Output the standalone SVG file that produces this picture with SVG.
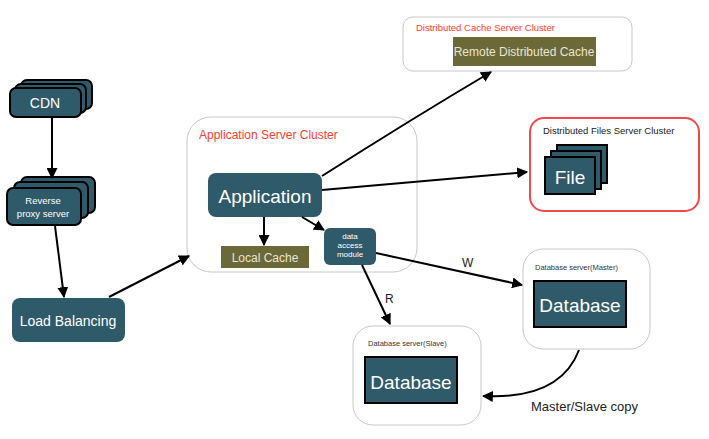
<svg xmlns="http://www.w3.org/2000/svg" width="709" height="439" viewBox="0 0 709 439">
<defs>
<marker id="ah" viewBox="0 0 10 10" refX="9" refY="5" markerWidth="5.5" markerHeight="5.5" orient="auto" markerUnits="strokeWidth">
<path d="M0,0 L10,5 L0,10 z" fill="#000"/>
</marker>
<style>
text{font-family:"Liberation Sans",Arial,sans-serif}
.node{fill:#2f5a69;stroke:#000;stroke-width:2}
.plain{fill:#2f5a69}
.olive{fill:#6b6938}
.wt{fill:#ffffff;text-anchor:middle}
.oltext{fill:#e9e6d0;text-anchor:middle}
.cluster{fill:#fff;stroke:#c8c8c8;stroke-width:1}
.red{fill:#ff3b30}
.conn{fill:none;stroke:#000;stroke-width:2;marker-end:url(#ah)}
</style>
</defs>
<rect width="709" height="439" fill="#fff"/>
<g id="cdn">
<rect class="node" x="21" y="80" width="71" height="29" rx="6"/>
<rect class="node" x="15" y="84" width="71" height="29" rx="6"/>
<rect class="node" x="10" y="88" width="71" height="29" rx="6"/>
<text class="wt" x="45" y="108" font-size="14">CDN</text>
</g>
<g id="reverse-proxy">
<rect class="node" x="21" y="177" width="74" height="36" rx="6"/>
<rect class="node" x="14" y="182" width="74" height="36" rx="6"/>
<rect class="node" x="7" y="188" width="74" height="37" rx="6"/>
<text class="wt" x="43" y="204" font-size="9.5">Reverse</text>
<text class="wt" x="43" y="217" font-size="9.5">proxy server</text>
</g>
<g id="load-balancing">
<rect class="plain" x="12" y="298" width="113" height="44" rx="8"/>
<text class="wt" x="68" y="326" font-size="14">Load Balancing</text>
</g>
<g id="app-cluster">
<rect class="cluster" x="187" y="117" width="230" height="155" rx="24"/>
<text class="red" x="199" y="139" font-size="12">Application Server Cluster</text>
</g>
<g id="application">
<rect class="plain" x="208" y="173" width="114" height="44" rx="8"/>
<text class="wt" x="265" y="203" font-size="19">Application</text>
</g>
<g id="local-cache">
<rect class="olive" x="221" y="246" width="88" height="22"/>
<text class="oltext" x="265" y="262" font-size="12">Local Cache</text>
</g>
<g id="data-access-module">
<rect class="plain" x="324" y="228" width="52" height="37" rx="6"/>
<text class="wt" x="350" y="239" font-size="8">data</text>
<text class="wt" x="350" y="248" font-size="8">access</text>
<text class="wt" x="350" y="257" font-size="8">module</text>
</g>
<g id="cache-cluster">
<rect class="cluster" x="403" y="17" width="229" height="54" rx="10"/>
<text class="red" x="416" y="31" font-size="9.5">Distributed Cache Server Cluster</text>
</g>
<g id="remote-cache">
<rect class="olive" x="453" y="37" width="143" height="29"/>
<text class="oltext" x="524" y="56" font-size="12">Remote Distributed Cache</text>
</g>
<g id="files-cluster">
<rect x="530" y="118" width="169" height="93" rx="14" fill="#fff" stroke="#f24a4a" stroke-width="2"/>
<text x="543" y="134" font-size="9.5" fill="#222">Distributed Files Server Cluster</text>
</g>
<g id="file">
<rect class="node" x="557" y="145" width="50" height="38"/>
<rect class="node" x="551" y="151" width="50" height="38"/>
<rect class="node" x="545" y="157" width="50" height="37"/>
<text class="wt" x="570" y="184" font-size="19">File</text>
</g>
<g id="db-master">
<rect class="cluster" x="523" y="249" width="127" height="100" rx="20"/>
<text x="535" y="270" font-size="7.5" fill="#333">Database server(Master)</text>
<rect class="node" x="534" y="281" width="92" height="46"/>
<text class="wt" x="580" y="312" font-size="19">Database</text>
</g>
<g id="db-slave">
<rect class="cluster" x="353" y="326" width="128" height="99" rx="20"/>
<text x="368" y="346" font-size="7.5" fill="#333">Database server(Slave)</text>
<rect class="node" x="365" y="357" width="92" height="46"/>
<text class="wt" x="411" y="389" font-size="19">Database</text>
</g>
<g id="connectors">
<path class="conn" d="M52,117 L52,178"/>
<path class="conn" d="M55,226 L64,297"/>
<path class="conn" d="M109,297 L189,256"/>
<path class="conn" d="M264,217 L264,245"/>
<path class="conn" d="M302,217 L324,230"/>
<path class="conn" d="M322,176 Q410,120 491,72"/>
<path class="conn" d="M322,190 L527,172"/>
<path class="conn" d="M376,253 L522,285"/>
<path class="conn" d="M362,265 L390,324"/>
<path class="conn" d="M579,350 Q560,400 483,396"/>
</g>
<text x="462" y="267" font-size="12" fill="#222">W</text>
<text x="385" y="303" font-size="12" fill="#222">R</text>
<text x="531" y="411" font-size="13" fill="#222">Master/Slave copy</text>
</svg>
